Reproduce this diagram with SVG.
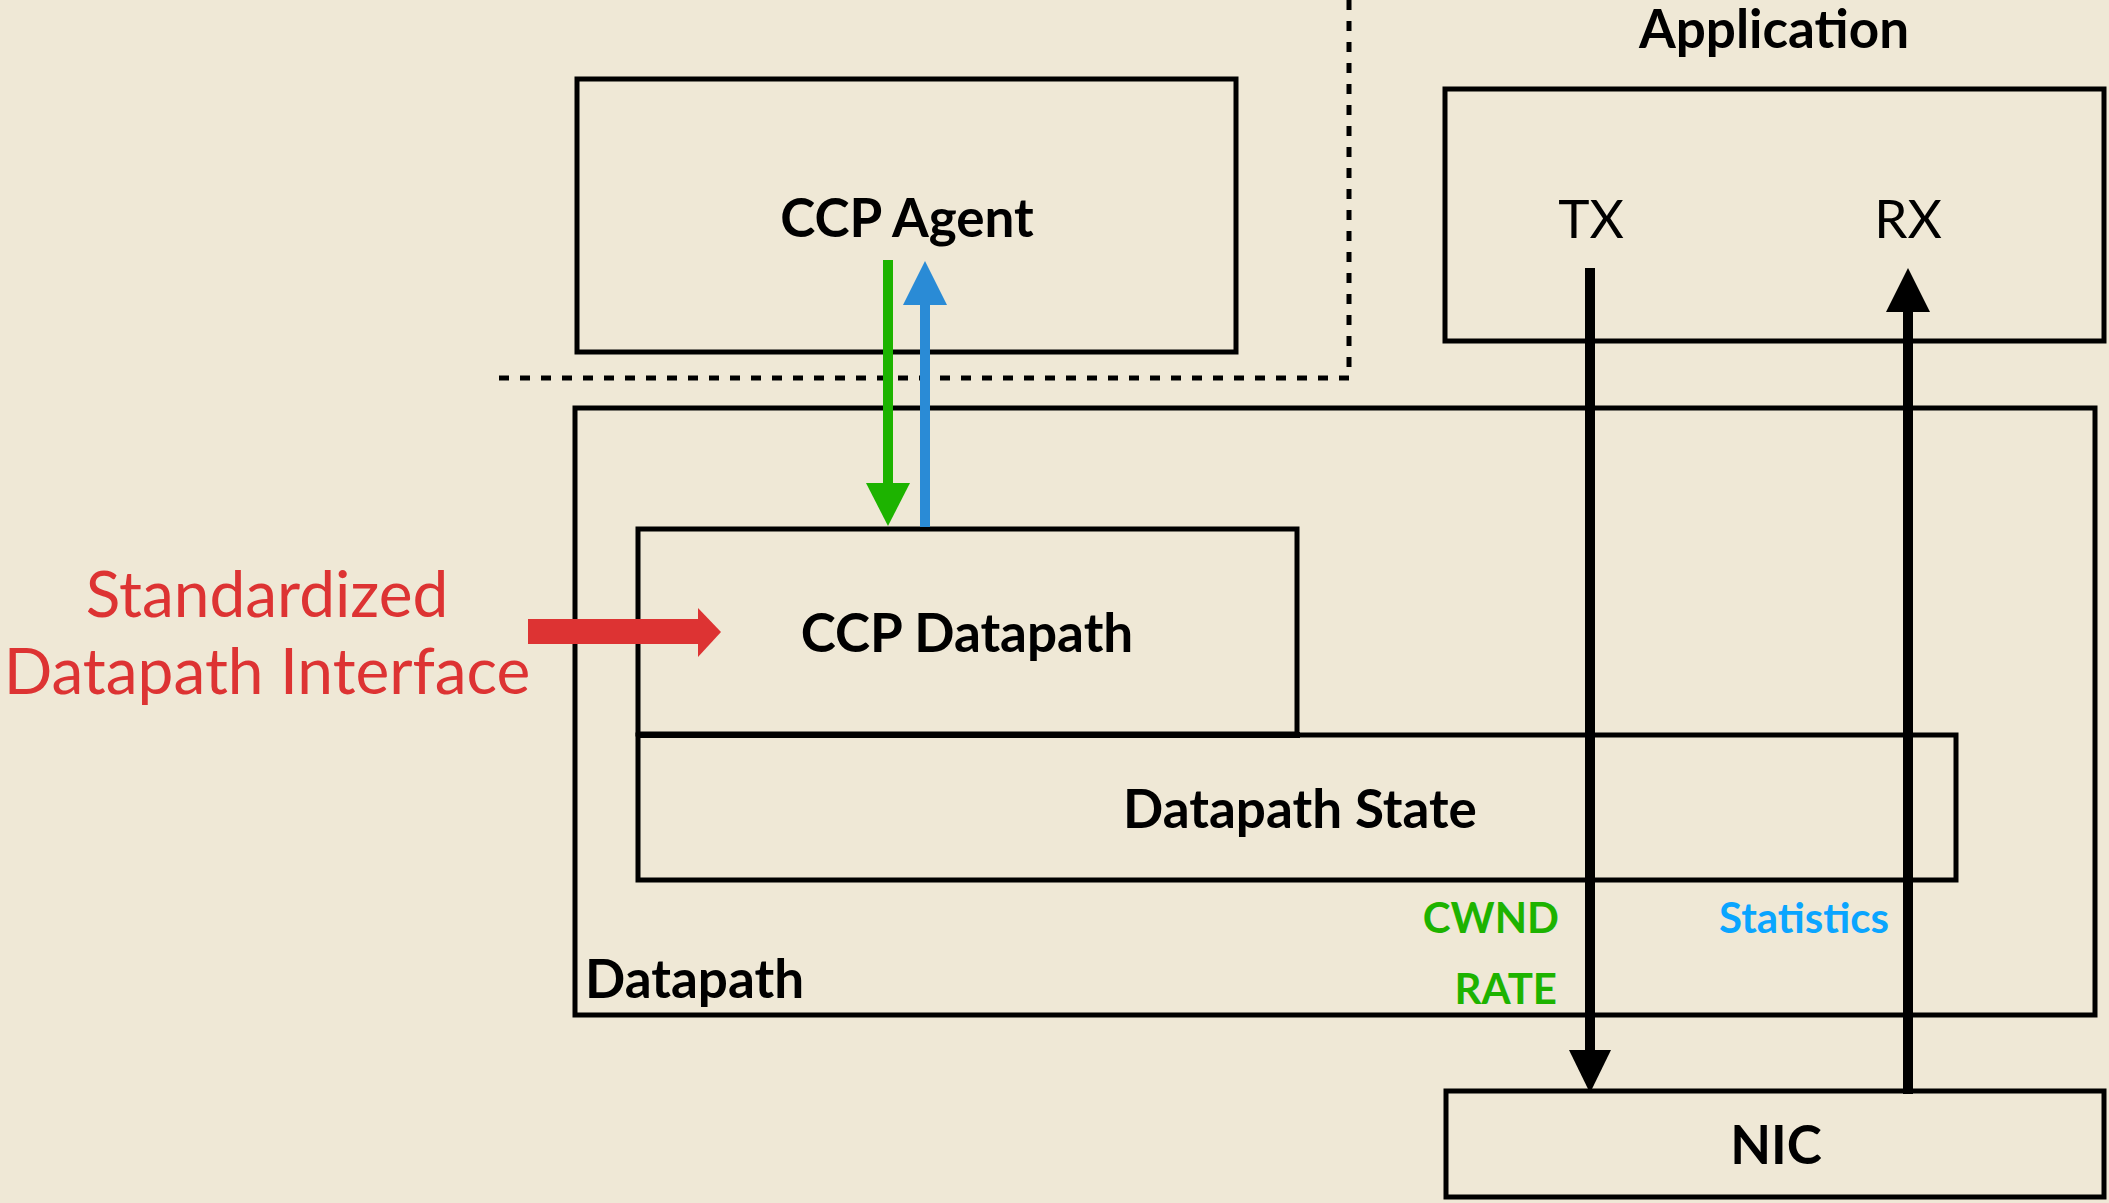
<svg xmlns="http://www.w3.org/2000/svg" width="2109" height="1203" viewBox="0 0 2109 1203">
<style>
.box{fill:none;stroke:#000;stroke-width:5}
.dot{fill:none;stroke:#000;stroke-width:5;stroke-dasharray:10 11}
.t{font-family:Lato,"Noto Sans","Liberation Sans",sans-serif;font-size:53px;fill:#000}
.b{font-weight:bold}
.s{font-size:42px;font-weight:bold}
.red{font-size:64px;fill:#dd3333}
.mid{text-anchor:middle}
.end{text-anchor:end}
</style>
<rect width="2109" height="1203" fill="#efe8d6"/>
<g id="boundary">
<path class="dot" d="M1349 0V378H499"/>
</g>
<g id="app-label"><text class="t b mid" x="1774" y="48">Application</text></g>
<g id="ccp-agent">
<rect class="box" x="577" y="79" width="659" height="273"/>
<text class="t b mid" x="907" y="237">CCP Agent</text>
</g>
<g id="application">
<rect class="box" x="1445" y="89" width="659" height="252"/>
<text class="t mid" x="1591" y="238">TX</text>
<text class="t mid" x="1908" y="238">RX</text>
</g>
<g id="datapath">
<rect class="box" x="575" y="408" width="1520" height="607"/>
<text class="t b" x="585" y="998">Datapath</text>
</g>
<g id="datapath-state">
<rect class="box" x="638" y="735" width="1318" height="145"/>
<text class="t b mid" x="1300" y="828">Datapath State</text>
</g>
<g id="ccp-datapath">
<rect class="box" x="638" y="529" width="659" height="205"/>
<line x1="636" y1="735" x2="1300" y2="735" stroke="#000" stroke-width="6"/>
<text class="t b mid" x="967" y="652">CCP Datapath</text>
</g>
<g id="nic">
<rect class="box" x="1446" y="1091" width="658" height="106"/>
<text class="t b mid" x="1776" y="1164">NIC</text>
</g>
<g id="interface-label">
<text class="t red mid" x="267" y="617">Standardized</text>
<text class="t red mid" x="267" y="694">Datapath Interface</text>
</g>
<g id="connectors">
<line x1="1590" y1="268" x2="1590" y2="1052" stroke="#000" stroke-width="10"/>
<polygon points="1569,1050 1611,1050 1590,1093" fill="#000"/>
<line x1="1908" y1="1094" x2="1908" y2="310" stroke="#000" stroke-width="10"/>
<polygon points="1886,312 1930,312 1908,268" fill="#000"/>
<line x1="888" y1="260" x2="888" y2="485" stroke="#1db300" stroke-width="10"/>
<polygon points="866,483 910,483 888,526" fill="#1db300"/>
<line x1="925" y1="527" x2="925" y2="303" stroke="#2a8bd6" stroke-width="10"/>
<polygon points="903,305 947,305 925,261" fill="#2a8bd6"/>
<rect x="528" y="619" width="172" height="25" fill="#dd3333"/>
<polygon points="698,608 721,632 698,657" fill="#dd3333"/>
<text class="t s end" x="1559" y="933" style="fill:#1db300">CWND</text>
<text class="t s end" x="1557" y="1004" style="fill:#1db300">RATE</text>
<text class="t s end" x="1889" y="933" style="fill:#0aa5ff">Statistics</text>
</g>
</svg>
